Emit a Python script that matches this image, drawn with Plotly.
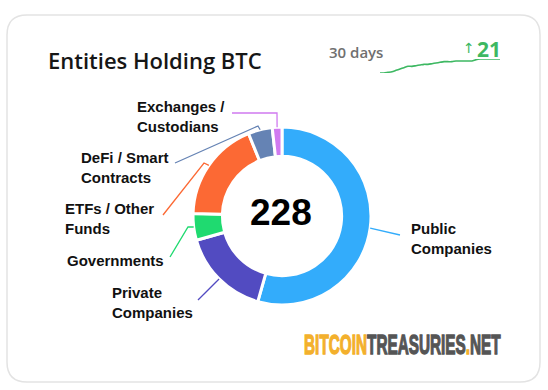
import math
import plotly.graph_objects as go

# ---------------- data ----------------
categories = ["Public Companies", "Private Companies", "Governments",
              "ETFs / Other Funds", "DeFi / Smart Contracts", "Exchanges / Custodians"]
label_text = ["Public<br>Companies", "Private<br>Companies", "Governments",
              "ETFs / Other<br>Funds", "DeFi / Smart<br>Contracts", "Exchanges /<br>Custodians"]
entity_counts = [124, 37, 11, 42, 10, 4]
total_entities = 228

spark_days = list(range(31))
spark_counts = [207, 207, 208, 209, 211, 213, 215, 217, 217, 218, 219, 220, 220, 221,
                222, 223, 224, 224, 224, 225, 225, 225, 225, 225, 227, 228, 228, 228,
                228, 228, 228]
change_30d = 21

# ---------------- style ----------------
W, H = 548, 390
colors = ["#33acfb", "#524bc1", "#1fda70", "#fc6934", "#6583b4", "#d07af0"]
GREEN = "#3db862"


def px(x):
    return x / W


def py(y):
    return 1 - y / H


CX, CY, R = 282, 216, 89

# label anchor (left x, centre y) and leader polyline points from label side
label_pos = {
    "Public Companies": (409, 238),
    "Private Companies": (110, 302),
    "Governments": (65, 260),
    "ETFs / Other Funds": (63, 218),
    "DeFi / Smart Contracts": (79, 167),
    "Exchanges / Custodians": (135, 116),
}
leader_pts = {
    "Public Companies": [(400, 235)],
    "Private Companies": [(198, 300)],
    "Governments": [(170, 257), (188, 227)],
    "ETFs / Other Funds": [(163, 215), (204, 163)],
    "DeFi / Smart Contracts": [(175, 163), (258, 126)],
    "Exchanges / Custodians": [(232, 113), (277, 113)],
}

fig = go.Figure()

fig.add_trace(go.Pie(
    labels=categories, values=entity_counts, hole=0.67, sort=False,
    direction="clockwise", rotation=0,
    marker=dict(colors=colors, line=dict(color="white", width=3)),
    textinfo="none", hoverinfo="label+value", showlegend=False,
    domain=dict(x=[px(CX - R), px(CX + R)], y=[py(CY + R), py(CY - R)]),
))

# sparkline
fig.add_trace(go.Scatter(
    x=spark_days, y=spark_counts, mode="lines",
    line=dict(color=GREEN, width=1.6, shape="spline", smoothing=0.6),
    xaxis="x2", yaxis="y2", showlegend=False, hoverinfo="skip",
))

shapes = []
# card with rounded corners
L, T, Rr, B, rad = 7, 15, 540, 382, 20
path = (f"M {px(L+rad)},{py(T)} L {px(Rr-rad)},{py(T)} Q {px(Rr)},{py(T)} {px(Rr)},{py(T+rad)} "
        f"L {px(Rr)},{py(B-rad)} Q {px(Rr)},{py(B)} {px(Rr-rad)},{py(B)} "
        f"L {px(L+rad)},{py(B)} Q {px(L)},{py(B)} {px(L)},{py(B-rad)} "
        f"L {px(L)},{py(T+rad)} Q {px(L)},{py(T)} {px(L+rad)},{py(T)} Z")
shapes.append(dict(type="path", xref="paper", yref="paper", path=path,
                   line=dict(color="#e3e3e3", width=1.5), fillcolor="white", layer="below"))

annotations = []
tot = sum(entity_counts)
cum = 0
for cat, lab, v, col in zip(categories, label_text, entity_counts, colors):
    mid = (cum + v / 2) / tot * 2 * math.pi
    cum += v
    ex, ey = CX + R * math.sin(mid), CY - R * math.cos(mid)
    pts = leader_pts[cat] + [(ex, ey)]
    p = "M " + " L ".join(f"{px(a)},{py(b)}" for a, b in pts)
    shapes.append(dict(type="path", xref="paper", yref="paper", path=p,
                       line=dict(color=col, width=1.3)))
    lx, ly = label_pos[cat]
    annotations.append(dict(x=px(lx), y=py(ly), xref="paper", yref="paper",
                            text=lab, showarrow=False, xanchor="left", yanchor="middle",
                            align="left",
                            font=dict(family="Liberation Sans, Arial", size=15,
                                      color="#111111", weight="bold")))

# centre total
annotations.append(dict(x=px(CX - 1), y=py(213), xref="paper", yref="paper",
                        text=str(total_entities), showarrow=False,
                        font=dict(family="Liberation Sans, Arial", size=37,
                                  color="#000000", weight="bold")))
# title
annotations.append(dict(x=px(46), y=py(60), xref="paper", yref="paper",
                        text="Entities Holding BTC", showarrow=False,
                        xanchor="left", yanchor="middle",
                        font=dict(family="Open Sans, Noto Sans", size=22,
                                  color="#161616", weight=600)))
# 30 days
annotations.append(dict(x=px(327), y=py(52), xref="paper", yref="paper",
                        text="30 days", showarrow=False, xanchor="left", yanchor="middle",
                        font=dict(family="Open Sans, Noto Sans", size=15,
                                  color="#707070", weight=600)))
annotations.append(dict(x=px(477), y=py(48), xref="paper", yref="paper",
                        text="↑", showarrow=False, xanchor="right", yanchor="middle",
                        font=dict(family="DejaVu Sans", size=14, color=GREEN)))
annotations.append(dict(x=px(503), y=py(49), xref="paper", yref="paper",
                        text=str(change_30d), showarrow=False, xanchor="right", yanchor="middle",
                        font=dict(family="Open Sans, Noto Sans", size=21, color=GREEN,
                                  weight="bold")))
# logo (condensed horizontally after drawing)
annotations.append(dict(x=px(302), y=py(345), xref="paper", yref="paper",
                        text="<span style='color:#f3b02c'>BITCOIN</span>TREASURIES<span style='color:#f3b02c'>.</span>NET",
                        showarrow=False, xanchor="left", yanchor="middle",
                        font=dict(family="Liberation Sans, Arial", size=27,
                                  color="#555555", weight="bold")))

fig.update_layout(
    width=W, height=H, margin=dict(l=0, r=0, t=0, b=0),
    paper_bgcolor="white", plot_bgcolor="rgba(0,0,0,0)",
    shapes=shapes, annotations=annotations,
    xaxis=dict(visible=False), yaxis=dict(visible=False),
    xaxis2=dict(domain=[px(380), px(500)], range=[0, 30], visible=False, anchor="y2"),
    yaxis2=dict(domain=[py(73), py(59)], range=[207, 228], visible=False, anchor="x2"),
)

post = """
document.body.style.margin='0';
var gd = document.getElementById('{plot_id}');
gd.querySelectorAll('.annotation').forEach(function(a){
  if (a.textContent.indexOf('BITCOIN') === 0) {
    var t = a.querySelector('text');
    var bb = t.getBBox();
    var s = 197 / bb.width;
    t.setAttribute('transform', 'translate(' + (bb.x * (1 - s)) + ',0) scale(' + s + ',1)');
    t.style.stroke = t.style.fill;
    t.style.strokeWidth = '1.3px';
    t.querySelectorAll('tspan').forEach(function(sp){
      if (sp.style.fill) { sp.style.stroke = sp.style.fill; }
    });
  }
});
"""

fig.write_html("out.html", post_script=post, config={"displayModeBar": False})
